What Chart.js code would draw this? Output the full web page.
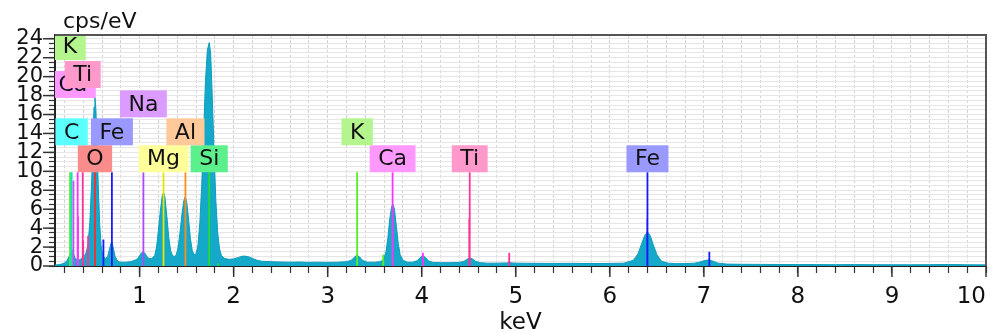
<!DOCTYPE html>
<html><head><meta charset="utf-8">
<script src="https://cdn.jsdelivr.net/npm/chart.js@4.4.1/dist/chart.umd.min.js"></script>
<style>html,body{margin:0;padding:0;background:#fff;}#wrap{width:998px;height:334px;}canvas{display:block;}</style>
</head><body><div id="wrap"><canvas id="c" width="998" height="334"></canvas></div>
<script>
// ---- spectrum (keV, cps/eV) ----
const specKeV = [0.10,0.15,0.20,0.23,0.25,0.27,0.28,0.29,0.31,0.33,0.35,0.37,0.39,0.41,0.43,0.45,0.47,0.49,0.505,0.515,0.525,0.535,0.545,0.56,0.575,0.59,0.605,0.62,0.64,0.66,0.68,0.695,0.705,0.72,0.74,0.76,0.78,0.80,0.85,0.90,0.95,0.98,1.00,1.02,1.04,1.06,1.08,1.10,1.13,1.16,1.18,1.20,1.22,1.24,1.255,1.27,1.29,1.31,1.33,1.35,1.37,1.39,1.41,1.43,1.45,1.47,1.485,1.50,1.52,1.54,1.56,1.58,1.60,1.62,1.64,1.66,1.68,1.70,1.72,1.74,1.755,1.77,1.79,1.81,1.83,1.85,1.87,1.90,1.95,2.00,2.05,2.10,2.15,2.20,2.25,2.30,2.40,2.50,2.60,2.70,2.80,2.90,3.00,3.10,3.20,3.25,3.28,3.31,3.34,3.37,3.42,3.50,3.55,3.59,3.62,3.64,3.66,3.68,3.695,3.71,3.73,3.75,3.77,3.80,3.85,3.90,3.95,3.98,4.01,4.04,4.07,4.12,4.20,4.30,4.40,4.45,4.48,4.51,4.54,4.57,4.62,4.70,4.80,4.90,4.93,4.96,5.00,5.20,5.40,5.60,5.80,6.00,6.15,6.25,6.30,6.34,6.37,6.40,6.43,6.46,6.50,6.55,6.62,6.70,6.80,6.90,6.95,7.00,7.05,7.10,7.15,7.25,7.40,7.60,7.80,8.00,8.20,8.40,8.60,8.80,9.00,9.20,9.40,9.60,9.80,10.0];
const specCps = [0.10,0.15,0.30,0.60,1.0,1.6,1.8,1.5,0.9,0.7,0.6,0.7,0.9,1.0,1.4,2.2,4.5,9.0,14.0,16.8,17.8,16.5,13.5,8.5,4.5,2.2,1.2,0.9,0.8,1.0,1.8,2.4,2.5,1.9,1.0,0.6,0.45,0.40,0.40,0.45,0.6,0.8,1.1,1.4,1.5,1.3,0.95,0.8,0.8,1.1,2.0,3.8,5.8,7.4,7.8,7.2,5.2,3.0,1.6,1.1,1.0,1.2,2.0,3.6,5.5,6.9,7.3,6.8,5.0,2.9,1.6,1.2,1.3,2.2,4.5,8.5,14.0,19.5,22.8,23.6,22.5,18.5,12.5,7.0,3.5,1.8,1.1,0.8,0.7,0.75,0.9,1.05,1.0,0.8,0.6,0.5,0.45,0.42,0.40,0.42,0.38,0.40,0.38,0.40,0.45,0.6,0.9,1.15,0.95,0.6,0.40,0.40,0.45,0.6,1.5,3.0,5.0,6.3,6.5,6.0,4.2,2.4,1.2,0.6,0.40,0.40,0.55,0.85,1.1,0.9,0.55,0.38,0.35,0.35,0.38,0.5,0.7,0.85,0.75,0.5,0.35,0.30,0.30,0.32,0.38,0.32,0.30,0.28,0.27,0.28,0.26,0.27,0.30,0.6,1.3,2.4,3.2,3.6,3.2,2.3,1.2,0.5,0.30,0.25,0.25,0.30,0.40,0.55,0.65,0.5,0.30,0.20,0.18,0.17,0.16,0.15,0.15,0.14,0.15,0.14,0.13,0.13,0.14,0.16,0.13,0.12];

// ---- element marker lines: energy (keV) and drawn height (cps/eV) ----
const elementNames = ['C','K','Ca','Ti','O','Fe','Na','Mg','Al','Si'];
const markKeV = {
  C:[0.277], K:[0.26,3.313,3.59], Ca:[0.296,0.341,0.345,3.69,4.012],
  Ti:[0.395,0.40,0.452,4.51,4.505,4.93], O:[0.525], Fe:[0.615,0.705,6.40,6.398,7.058],
  Na:[1.04], Mg:[1.254], Al:[1.487], Si:[1.74,1.836]
};
const markCps = {
  C:[9.9], K:[9.9,9.9,1.2], Ca:[9.0,9.9,5.2,9.9,1.4],
  Ti:[9.9,2.7,3.2,9.9,5.0,1.4], O:[9.9], Fe:[2.8,9.9,9.9,5.0,1.5],
  Na:[9.9], Mg:[9.9], Al:[9.9], Si:[9.9,0.3]
};
// ---- element labels: name, energy, bottom of the tag (cps/eV) ----
const labelNames = ['O','Mg','Si','Ca','Ti','Fe','C','Fe','Al','K','Na','Ca','Ti','K'];
const labelKeV   = [0.525,1.254,1.74,3.69,4.51,6.40,0.277,0.705,1.487,3.313,1.04,0.29,0.395,0.26];
const labelBase  = [9.9,9.9,9.9,9.9,9.9,9.9,12.75,12.75,12.75,12.75,15.7,17.75,18.8,21.75];

const xTickLabels = [1,2,3,4,5,6,7,8,9,10];
const yTickLabels = [0,2,4,6,8,10,12,14,16,18,20,22,24];

// ---- styles ----
const lineColor = {C:'#00e0e0',K:'#55ee22',Ca:'#ff33ff',Ti:'#ff3399',O:'#ff2a2a',Fe:'#1a1aff',Na:'#b044ff',Mg:'#e6e600',Al:'#ff8c1a',Si:'#22dd33'};
const boxColor  = {C:'#5cffff',K:'#b5f58d',Ca:'#ff99ff',Ti:'#ff99cc',O:'#fa8c8c',Fe:'#9999ff',Na:'#dc9cff',Mg:'#ffff99',Al:'#ffc999',Si:'#5cf08c'};
const FONT = '"DejaVu Sans", Verdana, sans-serif';

const datasets = [{
  label:'spectrum',
  data: specKeV.map((k,i)=>({x:k,y:specCps[i]})),
  borderColor:'#0d9cbc', borderWidth:1, backgroundColor:'#14a9c9',
  fill:'origin', pointRadius:0, tension:0, order:10
}];
elementNames.forEach((el,j)=>{
  const pts=[];
  markKeV[el].forEach((k,i)=>{ pts.push({x:k,y:0},{x:k,y:markCps[el][i]},{x:k,y:null}); });
  datasets.push({label:el,data:pts,borderColor:lineColor[el],borderWidth:1.8,pointRadius:0,fill:false,spanGaps:false,order:j});
});

const deco = {
  id:'deco',
  afterDatasetsDraw(chart){
    const {ctx,chartArea:a,scales:{x,y}} = chart;
    ctx.save();
    ctx.beginPath(); ctx.rect(a.left,a.top,a.right-a.left,a.bottom-a.top); ctx.clip();
    ctx.font = '22px '+FONT; ctx.textAlign='center'; ctx.textBaseline='middle';
    labelNames.forEach((n,i)=>{
      const cx=x.getPixelForValue(labelKeV[i]), by=y.getPixelForValue(labelBase[i]);
      const w=ctx.measureText(n).width+17, h=27;
      ctx.fillStyle=boxColor[n]; ctx.fillRect(cx-w/2,by-h,w,h);
      ctx.fillStyle='#111'; ctx.fillText(n,cx,by-h/2+1);
    });
    ctx.restore();
  },
  afterDraw(chart){
    const {ctx,chartArea:a,scales:{x,y}} = chart;
    ctx.save();
    ctx.strokeStyle='#555'; ctx.lineWidth=2;
    ctx.beginPath(); ctx.moveTo(a.left,a.top); ctx.lineTo(a.right,a.top); ctx.lineTo(a.right,a.bottom); ctx.stroke();
    ctx.strokeStyle='#333'; ctx.lineWidth=1.5;
    xTickLabels.forEach(v=>{const p=x.getPixelForValue(v); ctx.beginPath(); ctx.moveTo(p,a.bottom); ctx.lineTo(p,a.bottom+11); ctx.stroke();});
    yTickLabels.forEach(v=>{const p=y.getPixelForValue(v); ctx.beginPath(); ctx.moveTo(a.left-12,p); ctx.lineTo(a.left,p); ctx.stroke();});
    ctx.fillStyle='#111'; ctx.font='22px '+FONT; ctx.textBaseline='alphabetic';
    ctx.textAlign='left'; ctx.fillText('cps/eV',63,28);
    ctx.font='23px '+FONT; ctx.textAlign='center'; ctx.fillText('keV',(a.left+a.right)/2,329);
    ctx.restore();
  }
};

new Chart(document.getElementById('c'),{
  type:'line',
  data:{datasets},
  options:{
    responsive:false, animation:false, devicePixelRatio:1,
    layout:{padding:{left:0,right:12,top:35,bottom:0}},
    plugins:{legend:{display:false},tooltip:{enabled:false},title:{display:false}},
    scales:{
      x:{type:'linear',min:0.1,max:10,
        afterFit:s=>{s.height=68;s.paddingLeft=0;s.paddingRight=0;},
        afterBuildTicks:s=>{const t=[];for(let i=1;i<=50;i++)t.push({value:Math.round(i*20)/100});s.ticks=t;},
        grid:{color:'#d2d2d2',lineWidth:1,tickColor:'#333',tickLength:7,tickWidth:1.2},
        border:{display:true,color:'#222',width:2,dash:[3,2]},
        ticks:{autoSkip:false,maxRotation:0,align:'inner',padding:10,color:'#111',font:{family:FONT,size:23},
          callback:v=>xTickLabels.some(t=>Math.abs(t-v)<1e-6)?String(Math.round(v)):''}
      },
      y:{type:'linear',min:0,max:24.4,
        afterFit:s=>{s.width=55;s.paddingTop=0;s.paddingBottom=0;},
        afterBuildTicks:s=>{const t=[];for(let i=0;i<=48;i++)t.push({value:i/2});s.ticks=t;},
        grid:{color:'#e6e6e6',lineWidth:1,tickColor:'#333',tickLength:6,tickWidth:1.2},
        border:{display:true,color:'#222',width:2},
        ticks:{autoSkip:false,padding:6,color:'#111',font:{family:FONT,size:21},
          callback:v=>yTickLabels.includes(v)?String(v):''}
      }
    }
  },
  plugins:[deco]
});
</script></body></html>
